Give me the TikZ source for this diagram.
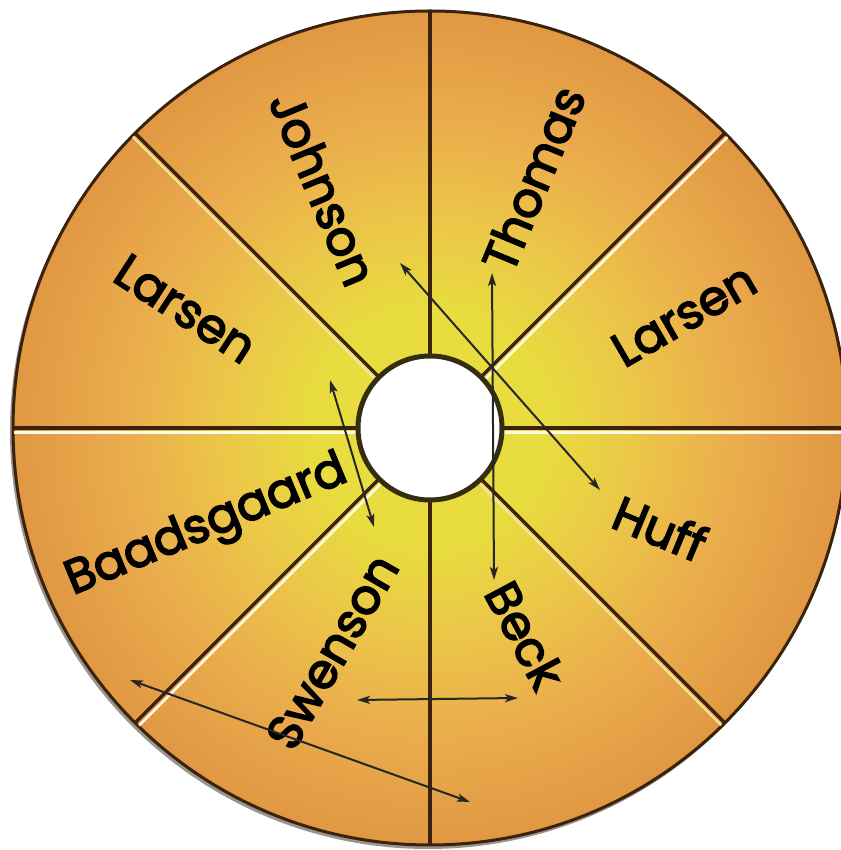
\documentclass[tikz,border=0pt]{standalone}
\usepackage{fontspec}
\newfontfamily\labfont{Poppins}
\newcommand\strk[1]{\special{pdf:literal direct 2 Tr 1.6 w}#1\special{pdf:literal direct 0 Tr}}
\usetikzlibrary{arrows.meta}
\definecolor{cY}{RGB}{232,220,62}
\definecolor{cM}{RGB}{235,200,72}
\definecolor{cO}{RGB}{234,170,76}
\definecolor{cE}{RGB}{224,152,66}
\definecolor{rim}{RGB}{58,34,12}
\definecolor{ring}{RGB}{52,46,16}
\definecolor{hilite}{RGB}{252,250,236}
\pgfdeclareradialshading{disc}{\pgfpointorigin}{color(0bp)=(cY);color(7bp)=(cY);color(12bp)=(cM);color(19bp)=(cO);color(25bp)=(cE);color(50bp)=(cE)}
\tikzset{
  lab/.style={font=\labfont\fontsize{48}{56}\selectfont, inner sep=0pt, text=black},
  dark/.style={line width=3.4pt, draw=rim},
  light/.style={line width=2.4pt, draw=hilite},
  conn/.style={line width=2pt, draw=black!85, {Stealth[length=13pt,width=8pt,inset=3pt]}-{Stealth[length=13pt,width=8pt,inset=3pt]}},
}
\begin{document}
\begin{tikzpicture}[x=1pt,y=1pt]
\useasboundingbox[fill=white] (0,0) rectangle (840,850);
\begin{scope}[shift={(430,422)}]
  % shadow and disc
  \fill[rim!60!black, opacity=0.45] (-2,-3) circle (418);
  \shade[shading=disc] (0,0) circle (417);
  \draw[rim, line width=3pt] (0,0) circle (417);
  % dividers
  \draw[dark] (90:72) -- (90:417);
  \draw[dark] (270:72) -- (270:417);
  \draw[light] ([shift={(0,-4.5)}]180:72) -- ([shift={(0,-4.5)}]180:416);
  \draw[dark] (180:72) -- (180:417);
  \draw[light] ([shift={(0,-4.5)}]0:72) -- ([shift={(0,-4.5)}]0:414);
  \draw[dark] (0:72) -- (0:417);
  \draw[light] ([shift={(3.3,-3.3)}]45:72) -- ([shift={(3.3,-3.3)}]45:416);
  \draw[dark] (45:72) -- (45:417);
  \draw[light] ([shift={(3.3,-3.3)}]225:72) -- ([shift={(3.3,-3.3)}]225:416);
  \draw[dark] (225:72) -- (225:417);
  \draw[light, draw=cM!55!white] ([shift={(-3,-3)}]135:72) -- ([shift={(-3,-3)}]135:416);
  \draw[dark] (135:72) -- (135:417);
  \draw[light, draw=cM!55!white] ([shift={(-3,-3)}]315:72) -- ([shift={(-3,-3)}]315:416);
  \draw[dark] (315:72) -- (315:417);
  % hole
  \fill[white] (0,0) circle (70);
  \draw[ring, line width=5pt] (0,0) circle (72);
  % labels
  \node[lab, rotate=-67.5] (johnson) at (114:262) {\strk{Johnson}};
  \node[lab, rotate=67.5] (thomas) at (67.5:270) {\strk{Thomas}};
  \node[lab, rotate=30] (larsenR) at (24:278) {\strk{Larsen}};
  \node[lab, rotate=-33] (larsenL) at (154:272) {\strk{Larsen}};
  \node[lab, rotate=-22.5] (huff) at (-23.5:251) {\strk{Huff}};
  \node[lab, rotate=-62] (beck) at (-65.3:228) {\strk{Beck}};
  \node[lab, rotate=60] (swenson) at (-113.6:244) {\strk{Swenson}};
  \node[lab, rotate=22.5] (baads) at (204:244) {\strk{Baadsgaard}};
  % arrow end points
  \coordinate (a1) at (-30,165);  \coordinate (b1) at (170,-62);
  \coordinate (a2) at (62,155);   \coordinate (b2) at (64,-152);
  \coordinate (a3) at (-100,48);  \coordinate (b3) at (-56,-99);
  \coordinate (a4) at (-73,-272); \coordinate (b4) at (88,-270);
  \coordinate (a5) at (-300,-252);\coordinate (b5) at (40,-374);
  \draw[conn] (a1) -- (b1);
  \draw[conn] (a2) -- (b2);
  \draw[conn] (a3) -- (b3);
  \draw[conn] (a4) -- (b4);
  \draw[conn] (a5) -- (b5);
\end{scope}
\end{tikzpicture}
\end{document}
